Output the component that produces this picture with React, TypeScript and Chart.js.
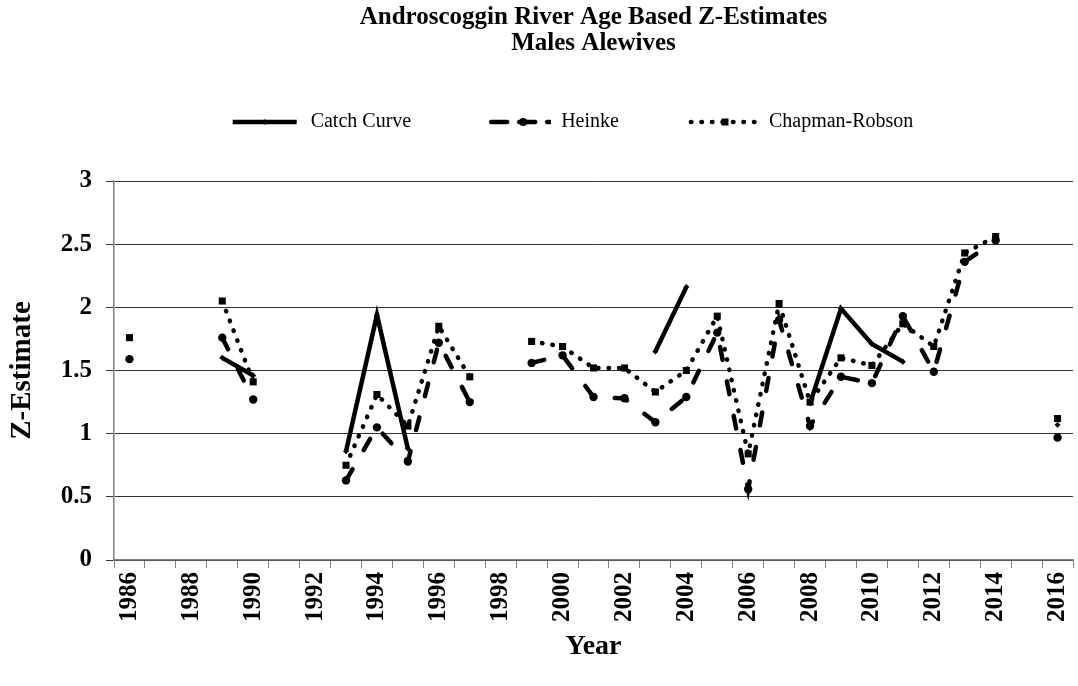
import React, { useEffect, useRef } from 'react';
import { Chart, registerables } from 'chart.js';

Chart.register(...registerables);

const years = [
  '1986', '1987', '1988', '1989', '1990', '1991', '1992', '1993', '1994', '1995',
  '1996', '1997', '1998', '1999', '2000', '2001', '2002', '2003', '2004', '2005',
  '2006', '2007', '2008', '2009', '2010', '2011', '2012', '2013', '2014', '2015', '2016',
];

const catchCurve = [
  null, null, null, 1.60, 1.46, null, null, 0.86, 1.94, 0.88,
  null, null, null, null, null, null, null, 1.65, 2.16, null,
  null, null, 1.24, 1.99, 1.71, 1.57, null, null, null, null, 1.07,
];

const heinke = [
  1.59, null, null, 1.76, 1.27, null, null, 0.63, 1.05, 0.78,
  1.72, 1.25, null, 1.56, 1.62, 1.29, 1.28, 1.09, 1.29, 1.80,
  0.56, 1.90, 1.06, 1.45, 1.40, 1.93, 1.49, 2.36, 2.53, null, 0.97,
];

const chapmanRobson = [
  1.76, null, null, 2.05, 1.41, null, null, 0.75, 1.31, 1.06,
  1.85, 1.45, null, 1.73, 1.69, 1.52, 1.52, 1.33, 1.50, 1.93,
  0.84, 2.03, 1.25, 1.60, 1.54, 1.87, 1.69, 2.43, 2.56, null, 1.12,
];

const seriesNames = ['Catch Curve', 'Heinke', 'Chapman-Robson'];
const yMin = 0;
const yMax = 3;
const yStep = 0.5;

const FONT = "'Liberation Serif', 'Times New Roman', serif";
const LEGEND_BOX = 130;

function makeLegendImage(
  dash: number[],
  marker: string,
  markerSize: number,
  x0: number,
  x1: number,
  markerX: number,
) {
  const c = document.createElement('canvas');
  c.width = LEGEND_BOX;
  c.height = 14;
  const ctx = c.getContext('2d')!;
  const y = 7;
  ctx.strokeStyle = '#000';
  ctx.lineWidth = 4.5;
  ctx.lineCap = dash.length ? 'round' : 'butt';
  ctx.setLineDash(dash);
  ctx.beginPath();
  ctx.moveTo(x0, y);
  ctx.lineTo(x1, y);
  ctx.stroke();
  ctx.setLineDash([]);
  ctx.fillStyle = '#000';
  const cx = markerX;
  if (marker === 'circle') {
    ctx.beginPath();
    ctx.arc(cx, y, markerSize, 0, Math.PI * 2);
    ctx.fill();
  } else if (marker === 'rect') {
    ctx.fillRect(cx - markerSize, y - markerSize, markerSize * 2, markerSize * 2);
  } else {
    ctx.beginPath();
    ctx.moveTo(cx, y - markerSize);
    ctx.lineTo(cx + markerSize, y);
    ctx.lineTo(cx, y + markerSize);
    ctx.lineTo(cx - markerSize, y);
    ctx.closePath();
    ctx.fill();
  }
  return c;
}

export default function App() {
  const ref = useRef<HTMLCanvasElement | null>(null);

  useEffect(() => {
    document.body.style.margin = '0';
    const canvas = ref.current;
    if (!canvas) return;
    Chart.defaults.font.family = FONT;
    Chart.defaults.color = '#000';

    const dashes = [[], [13, 22], [0.5, 10]];
    const legendImgs = [
      makeLegendImage(dashes[0], 'diamond', 3, 62, 126, 94),
      makeLegendImage([16, 12], 'circle', 4, 70, 129, 102),
      makeLegendImage(dashes[2], 'rect', 3.5, 62, 128, 96),
    ];

    const common = {
      borderColor: '#000',
      backgroundColor: '#000',
      pointBackgroundColor: '#000',
      pointBorderColor: '#000',
      pointBorderWidth: 0,
      borderWidth: 4.5,
      spanGaps: false,
      tension: 0,
      fill: false,
      xAxisID: 'x',
      yAxisID: 'y',
    };

    const chart = new Chart(canvas, {
      type: 'line',
      data: {
        labels: years,
        datasets: [
          {
            ...common,
            label: seriesNames[0],
            data: catchCurve,
            borderDash: dashes[0],
            borderCapStyle: 'butt',
            pointStyle: 'rectRot',
            pointRadius: 3,
          },
          {
            ...common,
            label: seriesNames[1],
            data: heinke,
            borderDash: dashes[1],
            borderCapStyle: 'round',
            pointStyle: 'circle',
            pointRadius: 4.2,
          },
          {
            ...common,
            label: seriesNames[2],
            data: chapmanRobson,
            borderDash: dashes[2],
            borderCapStyle: 'round',
            pointStyle: 'rect',
            pointRadius: 5,
          },
        ],
      },
      options: {
        animation: false,
        responsive: false,
        maintainAspectRatio: false,
        layout: { padding: { top: 4, left: 0, right: -6, bottom: 0 } },
        plugins: {
          tooltip: { enabled: false },
          title: {
            display: true,
            fullSize: false,
            text: ['Androscoggin River Age Based Z-Estimates', 'Males Alewives'],
            color: '#000',
            font: { family: FONT, size: 25, weight: 'bold', lineHeight: 1.06 },
            padding: { top: 0, bottom: 45 },
          },
          legend: {
            display: true,
            position: 'top',
            labels: {
              usePointStyle: true,
              pointStyleWidth: LEGEND_BOX,
              padding: 10,
              color: '#000',
              font: { family: FONT, size: 20 },
              generateLabels: (ch: any) =>
                ch.data.datasets.map((ds: any, i: number) => ({
                  text: ds.label,
                  pointStyle: legendImgs[i],
                  fillStyle: 'rgba(0,0,0,0)',
                  strokeStyle: 'rgba(0,0,0,0)',
                  lineWidth: 0,
                  hidden: false,
                  datasetIndex: i,
                  fontColor: '#000',
                })),
            },
          },
        },
        scales: {
          x: {
            type: 'category',
            position: 'bottom',
            offset: true,
            grid: {
              display: true,
              offset: true,
              drawOnChartArea: false,
              drawTicks: true,
              tickLength: 8,
              color: '#808080',
              lineWidth: 1,
            },
            border: { display: true, color: '#808080', width: 1.5 },
            ticks: {
              autoSkip: false,
              maxRotation: 90,
              minRotation: 90,
              padding: 4,
              color: '#000',
              font: { family: FONT, size: 25, weight: 'bold' },
              callback: function (this: any, val: any) {
                const label = this.getLabelForValue(val);
                return Number(label) % 2 === 0 ? label : '';
              },
            },
            title: {
              display: true,
              text: 'Year',
              color: '#000',
              font: { family: FONT, size: 28, weight: 'bold', lineHeight: 1.2 },
              padding: { top: 0, bottom: 22 },
            },
            afterFit: (s: any) => {
              s.height = 126;
              s.paddingRight = 0;
              s.paddingLeft = 0;
            },
          },
          xTop: {
            type: 'category',
            position: 'top',
            display: true,
            grid: { display: false },
            ticks: { display: false },
            border: { display: false },
            afterFit: (s: any) => {
              s.height = 39;
            },
          },
          y: {
            min: yMin,
            max: yMax,
            ticks: {
              stepSize: yStep,
              padding: 14,
              color: '#000',
              font: { family: FONT, size: 25, weight: 'bold' },
              callback: (v: any) => String(Number(v)),
            },
            grid: {
              color: '#333',
              lineWidth: 1,
              tickLength: 8,
              drawTicks: true,
            },
            border: { display: true, color: '#808080', width: 1.5 },
            title: {
              display: true,
              text: 'Z-Estimate',
              color: '#000',
              font: { family: FONT, size: 29, weight: 'bold', lineHeight: 1.2 },
              padding: { top: 5, bottom: 0 },
            },
            afterFit: (s: any) => {
              s.width = 114;
            },
          },
        },
      },
    } as any);

    return () => chart.destroy();
  }, []);

  return (
    <div style={{ width: 1078, height: 686 }}>
      <canvas ref={ref} width={1078} height={686} style={{ display: 'block' }} />
    </div>
  );
}
